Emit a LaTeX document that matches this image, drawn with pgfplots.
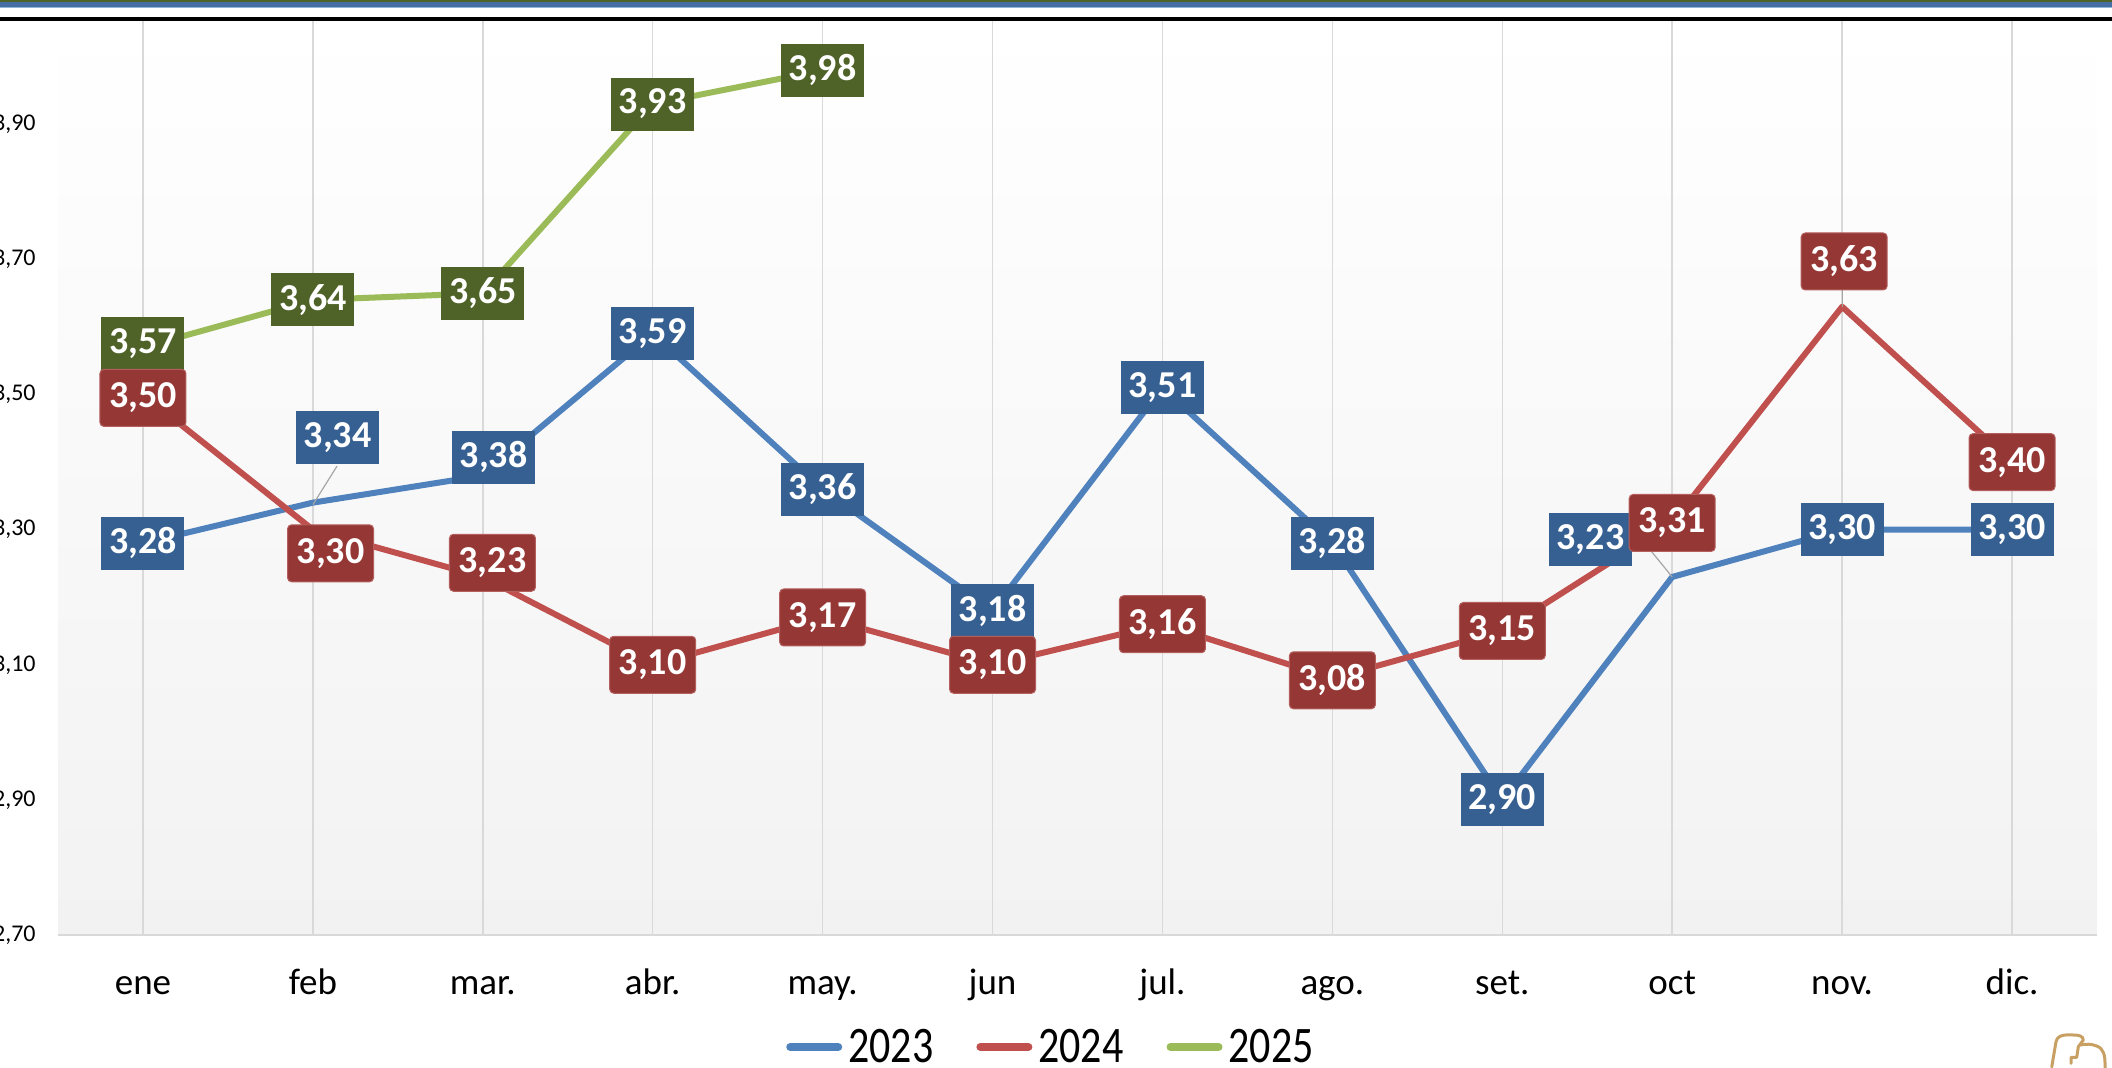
\documentclass[border=0pt]{standalone}
\usepackage{pgfplots}
\pgfplotsset{compat=1.18}
\usepackage{fontspec}
\setmainfont{Carlito}
\usepackage{graphicx}

\definecolor{l23}{RGB}{79,129,189}
\definecolor{l24}{RGB}{192,80,77}
\definecolor{l25}{RGB}{155,187,89}
\definecolor{b23}{RGB}{54,96,146}
\definecolor{b24}{RGB}{149,55,53}
\definecolor{b25}{RGB}{79,98,40}
\definecolor{b24e}{RGB}{180,95,93}
\definecolor{gridc}{RGB}{217,217,217}
\definecolor{bgbot}{RGB}{242,242,242}
\definecolor{leader}{RGB}{166,166,166}
\definecolor{tanc}{RGB}{200,160,100}
\definecolor{stripeg}{RGB}{79,98,40}
\definecolor{stripeb}{RGB}{70,110,165}
\definecolor{stripel}{RGB}{150,180,215}

\tikzset{
 lab/.style={text=white, font=\fontsize{19}{21}\selectfont\bfseries, inner sep=0pt, anchor=center},
 lab23/.style={lab, fill=b23, minimum width=41.5pt, minimum height=26.5pt},
 lab25/.style={lab, fill=b25, minimum width=41.5pt, minimum height=26.5pt},
 lab24/.style={lab, fill=b24, draw=b24e, line width=0.5pt, rounded corners=2pt, minimum width=43pt, minimum height=28.5pt},
}

\begin{document}
\begin{tikzpicture}
\begin{axis}[
 at={(29pt,66.5pt)}, anchor=south west,
 scale only axis, width=1019.5pt, height=457pt,
 xmin=-0.5, xmax=11.5, ymin=2.7, ymax=4.053,
 xtick={0,1,2,3,4,5,6,7,8,9,10,11},
 xticklabels={ene,feb,mar.,abr.,may.,jun,jul.,ago.,set.,oct,nov.,dic.},
 ytick={2.7,2.9,3.1,3.3,3.5,3.7,3.9},
 /pgf/number format/fixed,
 /pgf/number format/fixed zerofill,
 /pgf/number format/precision=2,
 /pgf/number format/use comma,
 /pgf/number format/assume math mode=true,
 yticklabel style={anchor=east, inner sep=0pt, xshift=-11pt, font=\fontsize{12}{14}\selectfont},
 xticklabel style={anchor=base, inner sep=0pt, yshift=-30pt, font=\fontsize{18.5}{21}\selectfont},
 major tick length=0pt,
 xmajorgrids, major grid style={gridc, line width=0.75pt},
 separate axis lines,
 axis x line*=bottom, axis y line*=left,
 x axis line style={gridc, line width=0.75pt, -},
 y axis line style={draw=none},
 axis background/.style={top color=white, bottom color=bgbot},
 clip=false,
 legend columns=3,
 legend style={at={(0.4865,0)}, anchor=center, yshift=-56pt, draw=none, fill=none, inner sep=0pt,
   font=\fontsize{21}{22}\selectfont, nodes={inner sep=0pt},
   /tikz/every odd column/.append style={column sep=3pt},
   /tikz/every even column/.append style={column sep=21.5pt}},
 legend image code/.code={\draw[#1, line width=4pt, line cap=round] (2pt,0pt) -- (26pt,0pt);},
]
\addplot[l23, line width=3pt, line join=round] coordinates {(0,3.28)(1,3.34)(2,3.38)(3,3.59)(4,3.36)(5,3.18)(6,3.51)(7,3.28)(8,2.90)(9,3.23)(10,3.30)(11,3.30)};
\addlegendentry{\scalebox{1}[1.22]{2023}}
\addplot[l24, line width=3pt, line join=round] coordinates {(0,3.50)(1,3.30)(2,3.23)(3,3.10)(4,3.17)(5,3.10)(6,3.16)(7,3.08)(8,3.15)(9,3.31)(10,3.63)(11,3.40)};
\addlegendentry{\scalebox{1}[1.22]{2024}}
\addplot[l25, line width=3pt, line join=round] coordinates {(0,3.57)(1,3.64)(2,3.65)(3,3.93)(4,3.98)};
\addlegendentry{\scalebox{1}[1.22]{2025}}

% leader lines
\addplot[leader, line width=0.6pt, forget plot] coordinates {(1.142,3.394)(1,3.337)};
\addplot[leader, line width=0.6pt, forget plot] coordinates {(8.88,3.267)(9,3.23)};
\addplot[leader, line width=0.6pt, forget plot] coordinates {(10.0,3.655)(10,3.63)};

% data labels
\addplot[draw=none, forget plot, nodes near coords, point meta=explicit symbolic,
  every node near coord/.style={lab23}] coordinates {
 (0,3.28) [3,28] (1.146,3.4365) [3,34] (2.064,3.407) [3,38] (3,3.59) [3,59]
 (4,3.36) [3,36] (5,3.18) [3,18] (6,3.51) [3,51] (7,3.28) [3,28]
 (8,2.90) [2,90] (8.519,3.286) [3,23] (10,3.30) [3,30] (11,3.30) [3,30]};
\addplot[draw=none, forget plot, nodes near coords, point meta=explicit symbolic,
  every node near coord/.style={lab25}] coordinates {
 (0,3.575) [3,57] (1,3.64) [3,64] (2,3.65) [3,65] (3,3.93) [3,93] (4,3.98) [3,98]};
\addplot[draw=none, forget plot, nodes near coords, point meta=explicit symbolic,
  every node near coord/.style={lab24}] coordinates {
 (0,3.495) [3,50] (1.104,3.265) [3,30] (2.057,3.251) [3,23] (3,3.10) [3,10]
 (4,3.17) [3,17] (5,3.10) [3,10] (6,3.16) [3,16] (7,3.077) [3,08]
 (8,3.15) [3,15] (9,3.31) [3,31] (10.012,3.697) [3,63] (11,3.40) [3,40]};
\end{axis}

% top stripes
\fill[white] (0,523.5pt) rectangle (1056pt,534pt);
\fill[stripeg] (0,533pt) rectangle (1056pt,534pt);
\fill[stripeb] (0,530.5pt) rectangle (1056pt,533pt);
\fill[stripel] (0,530pt) rectangle (1056pt,530.5pt);
\fill[black] (0,523.5pt) rectangle (1056pt,525.5pt);

% logo
\draw[tanc, line width=1.5pt, line join=round, line cap=round]
 (1025.85pt,0.5pt) -- (1028pt,13.15pt) to[out=80,in=180] (1033pt,16.5pt) -- (1036.65pt,16.5pt)
 to[out=0,in=90] (1041.65pt,14pt) -- (1039.15pt,10.65pt) -- (1038.35pt,5.35pt) -- (1035.5pt,5.35pt) -- (1035.5pt,2.35pt);
\draw[tanc, line width=1.5pt, line join=round, line cap=round]
 (1040pt,11.5pt) to[out=10,in=160] (1048.35pt,11pt) to[out=-20,in=90] (1052.5pt,2pt) -- (1052.5pt,0pt);

\pgfresetboundingbox
\path[use as bounding box] (0,0) rectangle (1056pt,534pt);
\end{tikzpicture}
\end{document}
